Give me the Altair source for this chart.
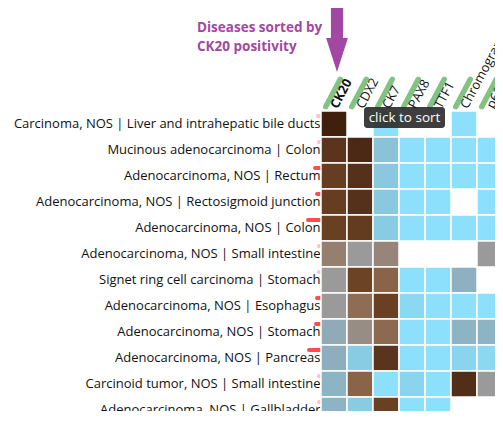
import altair as alt
import pandas as pd

diseases = [
    "Carcinoma, NOS | Liver and intrahepatic bile ducts",
    "Mucinous adenocarcinoma | Colon",
    "Adenocarcinoma, NOS | Rectum",
    "Adenocarcinoma, NOS | Rectosigmoid junction",
    "Adenocarcinoma, NOS | Colon",
    "Adenocarcinoma, NOS | Small intestine",
    "Signet ring cell carcinoma | Stomach",
    "Adenocarcinoma, NOS | Esophagus",
    "Adenocarcinoma, NOS | Stomach",
    "Adenocarcinoma, NOS | Pancreas",
    "Carcinoid tumor, NOS | Small intestine",
    "Adenocarcinoma, NOS | Gallbladder",
]
markers = ["CK20", "CDX2", "CK7", "PAX8", "TTF1", "Chromogranin", "p63"]

ck20 = [1.0, 0.85, 0.78, 0.78, 0.76, 0.5, 0.4, 0.4, 0.3, 0.27, 0.22, 0.22]
cdx2 = [None, 0.93, 0.88, 0.88, 0.8, 0.4, 0.75, 0.58, 0.45, 0.1, 0.62, 0.1]
ck7 = [0.0, 0.15, 0.12, 0.12, 0.1, 0.48, 0.62, 0.76, 0.6, 0.85, 0.0, 0.76]
pax8 = [None, 0.0, 0.0, 0.0, 0.0, None, 0.0, 0.04, 0.0, 0.0, 0.06, 0.0]
ttf1 = [None, 0.0, 0.0, 0.0, 0.0, None, 0.0, 0.0, 0.0, 0.0, 0.0, 0.0]
chromogranin = [0.0, 0.0, 0.0, None, 0.0, None, 0.25, 0.0, 0.22, 0.06, 0.9, None]
p63 = [None, 0.0, 0.0, 0.0, 0.0, 0.4, None, 0.0, 0.22, 0.04, 0.4, None]

marker_values = [ck20, cdx2, ck7, pax8, ttf1, chromogranin, p63]

bar_len = [3, 2, 6, 4, 13, 2, 2, 4, 5, 12, 2, 2]
bar_strong = [False, False, True, True, True, False, False, True, True, True, False, False]

color_domain = [0.0, 0.1, 0.22, 0.3, 0.4, 0.5, 0.62, 0.76, 0.88, 1.0]
color_range = ["#8ce0fc", "#88cce4", "#8cb4c4", "#90aab8", "#9a9a9a",
               "#958070", "#8a6448", "#6a4022", "#55301a", "#40200c"]

rows = []
for m, vals in zip(markers, marker_values):
    for d, v in zip(diseases, vals):
        if v is not None:
            rows.append({"marker": m, "disease": d, "value": v})
cells_df = pd.DataFrame(rows)

bars_df = pd.DataFrame({"disease": diseases, "len": bar_len, "strong": bar_strong})
markers_df = pd.DataFrame({"marker": markers})

FONT = "Open Sans"
PURPLE = "#a248a2"

y_axis = alt.Axis(labelFont=FONT, labelFontSize=13, labelColor="#111",
                  labelPadding=1, labelLimit=400, ticks=False, tickSize=0, domain=False)
y_enc = alt.Y("disease:N", sort=diseases, title=None, axis=y_axis)


def x_band(axis=None):
    return alt.X("marker:N", sort=markers, title=None,
                 scale=alt.Scale(domain=markers), axis=axis)


pills = alt.Chart(bars_df).mark_rule(strokeWidth=4, strokeCap="round", color="#ff4d4d",
                                     yOffset=-8).encode(
    x=alt.X("len:Q", scale=alt.Scale(domain=[0, 20], range=[0, -20]), axis=None),
    x2=alt.value(2),
    y=y_enc,
    opacity=alt.Opacity("strong:N", scale=alt.Scale(domain=[True, False], range=[1, 0.35]),
                        legend=None),
)

cells = alt.Chart(cells_df).mark_rect(stroke="white", strokeWidth=1.5).encode(
    x=x_band(alt.Axis(orient="top", labelAngle=298, labelAlign="left",
                      labelBaseline="middle", labelPadding=4, labelFont=FONT,
                      labelFontSize=12.8, labelColor="#111",
                      labelFontWeight=alt.expr("datum.value == 'CK20' ? 'bold' : 'normal'"),
                      ticks=False, domain=False)),
    y=y_enc,
    color=alt.Color("value:Q", scale=alt.Scale(domain=color_domain, range=color_range,
                                               interpolate="rgb"), legend=None),
)

greens = alt.Chart(markers_df).mark_point(
    shape="M -0.469 0.883 L 0.469 -0.883", size=961, filled=False,
    stroke="#82c282", strokeWidth=5.5, strokeCap="round", opacity=1, xOffset=-1
).encode(
    x=x_band(),
    y=alt.value(-18),
)

arrow = alt.Chart(markers_df).transform_filter(alt.datum.marker == "CK20").mark_point(
    shape="M -0.19 -1 L 0.19 -1 L 0.19 -0.06 L 0.34 -0.06 L 0 1 L -0.34 -0.06 L -0.19 -0.06 Z",
    size=4096, filled=True, color=PURPLE, opacity=1, xOffset=3
).encode(
    x=x_band(),
    y=alt.value(-71),
)

note = alt.Chart(markers_df).transform_filter(alt.datum.marker == "CK20").mark_text(
    text=["Diseases sorted by", "CK20 positivity"], align="left", baseline="alphabetic",
    font=FONT, fontSize=13.5, fontWeight="bold", color=PURPLE, lineHeight=19
).encode(x=alt.value(-124), y=alt.value(-79))

tip_box = alt.Chart(markers_df).transform_filter(alt.datum.marker == "CK20").mark_rect(
    color="#2f2f2f", opacity=0.93, cornerRadius=3
).encode(x=alt.value(43), x2=alt.value(124), y=alt.value(-4), y2=alt.value(17))

tip_text = alt.Chart(markers_df).transform_filter(alt.datum.marker == "CK20").mark_text(
    text="click to sort", font=FONT, fontSize=13.5, color="white", align="center",
    baseline="middle"
).encode(x=alt.value(83.5), y=alt.value(6.5))

chart = alt.layer(pills, cells, greens, arrow, note, tip_box, tip_text).resolve_scale(
    x="independent"
).properties(
    width=182, height=312,
    autosize=alt.AutoSizeParams(type="none"),
    padding={"left": 313, "top": 103, "right": -8, "bottom": -12},
).configure_view(stroke=None)

chart.save("out.html", embed_options={"renderer": "svg", "actions": False})
